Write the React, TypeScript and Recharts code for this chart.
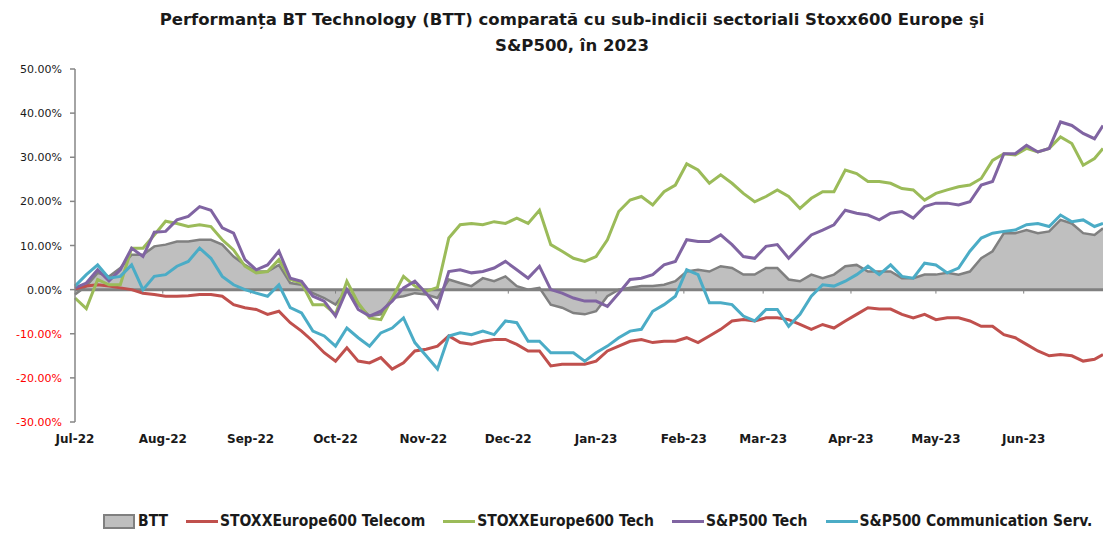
import React from 'react';
import { ComposedChart, Area, Line, XAxis, YAxis, ReferenceLine } from 'recharts';

// calendar day offsets from 1 Jul 2022
const days = [
  0, 4, 8, 12, 16, 20, 24, 28, 32, 36, 40, 44, 48, 52, 56, 60,
  64, 68, 72, 76, 80, 84, 88, 92, 96, 100, 104, 108, 112, 116, 120,
  124, 128, 132, 136, 140, 144, 148, 152, 156, 160, 164, 168, 172, 176, 180, 184,
  188, 192, 196, 200, 204, 208, 212, 216, 220, 224, 228, 232, 236, 240, 244,
  248, 252, 256, 260, 264, 268, 272, 276, 280, 284, 288, 292, 296, 300, 304, 308,
  312, 316, 320, 324, 328, 332, 336, 340, 344, 348, 352, 356, 360, 363,
];

const monthTicks = [0, 31, 62, 92, 123, 153, 184, 215, 243, 274, 304, 335];
const monthLabels = ['Jul-22', 'Aug-22', 'Sep-22', 'Oct-22', 'Nov-22', 'Dec-22', 'Jan-23', 'Feb-23', 'Mar-23', 'Apr-23', 'May-23', 'Jun-23'];
const yTicks = [-30, -20, -10, 0, 10, 20, 30, 40, 50];

const btt = [
  -1.1, 0.8, 3.8, 3.0, 4.9, 7.9, 7.9, 9.8, 10.2, 10.9, 10.9, 11.3, 11.3, 10.2, 7.5, 5.6,
  4.1, 4.1, 5.6, 1.5, 1.1, -0.8, -1.9, -3.4, 0.0, -3.4, -6.0, -5.6, -1.9, -1.5, -0.8,
  -1.1, -1.9, 2.3, 1.5, 0.8, 2.6, 1.9, 3.0, 0.8, 0.0, 0.4, -3.4, -4.1, -5.3, -5.6, -4.9,
  -1.5, 0.0, 0.4, 0.8, 0.8, 1.1, 1.9, 4.1, 4.5, 4.1, 5.3, 4.9, 3.4, 3.4, 4.9,
  4.9, 2.3, 1.9, 3.4, 2.6, 3.4, 5.3, 5.6, 4.1, 4.1, 4.1, 2.6, 2.6, 3.4, 3.4, 3.8,
  3.4, 4.1, 7.1, 8.7, 12.8, 12.8, 13.5, 12.8, 13.2, 15.8, 15.0, 12.8, 12.4, 13.9,
];

const telecom = [
  0.2, 0.8, 1.1, 0.8, 0.4, 0.0, -0.8, -1.1, -1.5, -1.5, -1.4, -1.1, -1.1, -1.5, -3.4, -4.1,
  -4.5, -5.6, -4.9, -7.5, -9.4, -11.7, -14.3, -16.2, -13.2, -16.2, -16.6, -15.4, -18.0, -16.6, -13.9,
  -13.5, -12.8, -10.5, -12.0, -12.4, -11.7, -11.3, -11.3, -12.4, -13.9, -13.9, -17.3, -16.9, -16.9, -16.9, -16.2,
  -13.9, -12.8, -11.7, -11.3, -12.0, -11.7, -11.7, -10.9, -12.0, -10.5, -9.0, -7.1, -6.8, -7.1, -6.4,
  -6.4, -6.8, -7.9, -9.0, -7.9, -8.7, -7.1, -5.6, -4.1, -4.4, -4.4, -5.6, -6.4, -5.6, -6.8, -6.4,
  -6.4, -7.1, -8.3, -8.3, -10.2, -10.9, -12.4, -13.9, -15.0, -14.7, -15.0, -16.2, -15.8, -14.7,
];

const stoxxTech = [
  -1.9, -4.3, 2.3, 1.1, 1.1, 9.4, 9.4, 12.4, 15.5, 15.0, 14.3, 14.7, 14.3, 11.3, 9.0, 5.3,
  3.8, 4.1, 6.8, 2.3, 1.5, -3.4, -3.4, -5.6, 1.9, -3.0, -6.4, -6.8, -1.9, 3.0, 0.8,
  -0.4, 0.5, 11.7, 14.7, 15.0, 14.7, 15.4, 15.0, 16.2, 15.0, 18.0, 10.2, 8.7, 7.1, 6.4, 7.5,
  11.3, 17.7, 20.3, 21.1, 19.2, 22.2, 23.7, 28.5, 27.1, 24.1, 26.0, 24.1, 21.8, 19.9, 21.1,
  22.6, 21.1, 18.4, 20.7, 22.2, 22.2, 27.1, 26.3, 24.5, 24.5, 24.1, 22.9, 22.6, 20.3, 21.8, 22.6,
  23.3, 23.7, 25.2, 29.3, 30.8, 30.5, 32.0, 31.2, 32.0, 34.6, 33.1, 28.2, 29.7, 32.0,
];

const spTech = [
  0.4, 1.5, 4.5, 2.0, 4.5, 9.4, 7.5, 13.0, 13.2, 15.8, 16.6, 18.8, 18.0, 14.0, 12.8, 6.8,
  4.5, 5.6, 8.7, 2.6, 1.9, -1.5, -2.6, -6.0, 0.0, -4.5, -6.0, -4.9, -2.6, 0.4, 1.9,
  -0.8, -4.1, 4.1, 4.5, 3.8, 4.1, 4.9, 6.4, 4.5, 2.6, 5.3, 0.0, -0.8, -1.9, -2.6, -2.6,
  -3.8, -0.8, 2.3, 2.6, 3.4, 5.6, 6.4, 11.3, 10.9, 10.9, 12.4, 10.2, 7.5, 7.1, 9.8,
  10.2, 7.1, 9.8, 12.4, 13.5, 14.7, 18.0, 17.3, 16.9, 15.8, 17.3, 17.7, 16.2, 18.8, 19.6, 19.6,
  19.2, 19.9, 23.7, 24.5, 30.8, 30.8, 32.7, 31.2, 32.0, 38.0, 37.2, 35.4, 34.2, 37.2,
];

const spComm = [
  0.8, 3.4, 5.6, 2.6, 3.0, 5.6, 0.0, 3.0, 3.4, 5.3, 6.4, 9.4, 7.1, 3.0, 1.1, 0.0,
  -0.8, -1.5, 1.1, -4.1, -5.3, -9.4, -10.5, -12.8, -8.7, -10.9, -12.8, -9.8, -8.7, -6.4, -12.0,
  -15.0, -18.0, -10.5, -9.8, -10.2, -9.4, -10.2, -7.1, -7.5, -11.7, -11.7, -14.3, -14.3, -14.3, -16.2, -14.3,
  -12.8, -10.9, -9.4, -9.0, -4.9, -3.4, -1.5, 4.5, 3.4, -3.0, -3.0, -3.4, -6.0, -7.1, -4.5,
  -4.5, -8.3, -5.6, -1.5, 1.1, 0.8, 1.9, 3.4, 5.3, 3.4, 5.6, 3.0, 2.6, 6.0, 5.6, 3.8,
  4.9, 8.7, 11.7, 12.8, 13.2, 13.5, 14.7, 15.0, 14.3, 16.9, 15.4, 15.8, 14.3, 15.0,
];

const seriesNames = ['BTT', 'STOXXEurope600 Telecom', 'STOXXEurope600 Tech', 'S&P500 Tech', 'S&P500 Communication Serv.'];
const colors = ['#BFBFBF', '#C0504D', '#9BBB59', '#8064A2', '#4BACC6'];

const data = days.map((d, i) => ({
  day: d,
  btt: btt[i],
  telecom: telecom[i],
  stoxxTech: stoxxTech[i],
  spTech: spTech[i],
  spComm: spComm[i],
}));

const FONT = '"DejaVu Sans", Verdana, sans-serif';
const CFONT = '"DejaVu Sans Condensed", "DejaVu Sans", sans-serif';

const YTick = (props: any) => {
  const { x, y, payload } = props;
  const v = payload.value as number;
  return (
    <text x={x} y={y} dy={4} textAnchor="end" fontFamily={FONT} fontSize={11} fontWeight={500}
      fill={v < 0 ? '#FF0000' : '#1a1a1a'}>
      {v.toFixed(2) + '%'}
    </text>
  );
};

const XTick = (props: any) => {
  const { x, y, payload } = props;
  const idx = monthTicks.indexOf(payload.value);
  return (
    <text x={x} y={y} dy={13} textAnchor="middle" fontFamily={FONT} fontSize={12} fontWeight="bold" fill="#1a1a1a">
      {monthLabels[idx]}
    </text>
  );
};

const LegendBar = () => (
  <div style={{ position: 'absolute', left: 103, top: 512, display: 'flex', alignItems: 'center', fontFamily: CFONT, fontWeight: 'bold', fontSize: 15.5, color: '#1a1a1a', whiteSpace: 'nowrap' }}>
    {seriesNames.map((n, i) => (
      <div key={n} style={{ display: 'flex', alignItems: 'center', marginRight: 18 }}>
        {i === 0 ? (
          <div style={{ width: 28, height: 11, background: colors[0], border: '2px solid #808080', marginRight: 3 }} />
        ) : (
          <div style={{ width: 32, height: 3, background: colors[i], marginRight: 2 }} />
        )}
        <span>{n}</span>
      </div>
    ))}
  </div>
);

export default function App() {
  return (
    <div style={{ position: 'absolute', left: 0, top: 0, width: 1103, height: 533, background: '#fff', overflow: 'hidden' }}>
      <div style={{ position: 'absolute', left: 0, top: 7, width: 1144, textAlign: 'center', fontFamily: FONT, fontWeight: 'bold', fontSize: 16.5, lineHeight: '26px', color: '#1a1a1a' }}>
        <div>Performanța BT Technology (BTT) comparată cu sub-indicii sectoriali Stoxx600 Europe şi</div>
        <div>S&amp;P500, în 2023</div>
      </div>
      <div style={{ position: 'absolute', left: 0, top: 0 }}>
        <ComposedChart width={1103} height={533} data={data} margin={{ top: 69, right: 0, bottom: 81, left: 0 }}>
          <XAxis dataKey="day" type="number" domain={[0, 363]} ticks={monthTicks} interval={0}
            axisLine={false} tickLine={false} height={30} tick={<XTick />} />
          <YAxis type="number" domain={[-30, 50]} ticks={yTicks} interval={0} width={75}
            axisLine={{ stroke: '#868686', strokeWidth: 1.5 }} tickLine={{ stroke: '#868686', strokeWidth: 1.5 }}
            tickSize={5} tickMargin={8} tick={<YTick />} />
          <Area dataKey="btt" type="linear" baseValue={0} fill="#BFBFBF" fillOpacity={1} stroke="#808080" strokeWidth={2.5} isAnimationActive={false} dot={false} activeDot={false} />
          <ReferenceLine y={0} stroke="#808080" strokeWidth={3} />
          {monthTicks.slice(1).map((m) => (
            <ReferenceLine key={m} segment={[{ x: m, y: 0 }, { x: m, y: -0.9 }]} stroke="#808080" strokeWidth={1} />
          ))}
          <Line dataKey="telecom" type="linear" stroke={colors[1]} strokeWidth={3} dot={false} activeDot={false} isAnimationActive={false} />
          <Line dataKey="stoxxTech" type="linear" stroke={colors[2]} strokeWidth={3} dot={false} activeDot={false} isAnimationActive={false} />
          <Line dataKey="spTech" type="linear" stroke={colors[3]} strokeWidth={3} dot={false} activeDot={false} isAnimationActive={false} />
          <Line dataKey="spComm" type="linear" stroke={colors[4]} strokeWidth={3} dot={false} activeDot={false} isAnimationActive={false} />
        </ComposedChart>
      </div>
      <LegendBar />
    </div>
  );
}
